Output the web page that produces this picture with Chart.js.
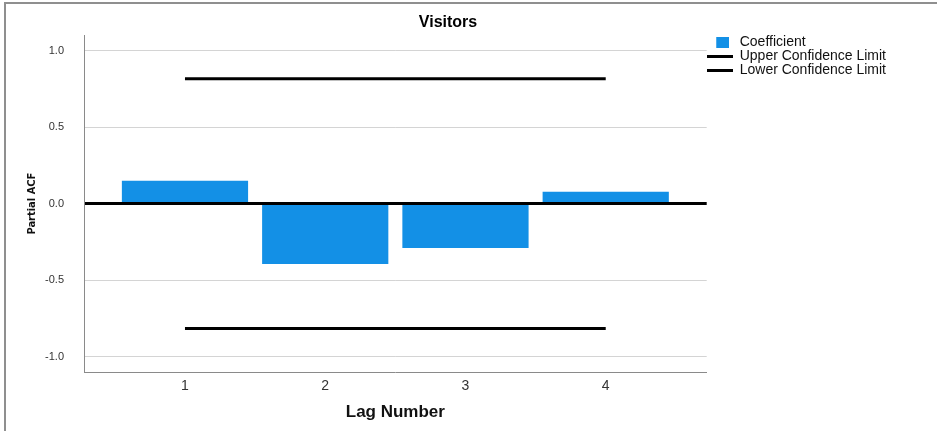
<!DOCTYPE html>
<html>
<head>
<meta charset="utf-8">
<script src="https://cdn.jsdelivr.net/npm/chart.js@4/dist/chart.umd.min.js"></script>
<style>
  html, body { margin: 0; padding: 0; background: #fff; }
  #marco { position: absolute; left: 4px; top: 2px; width: 933px; height: 429px;
           border-left: 2px solid #8f8f8f; border-top: 2px solid #8f8f8f; box-sizing: border-box; }
  #contenedor { position: absolute; left: 0; top: 0; width: 896px; height: 431px; }
</style>
</head>
<body>
<div id="marco"></div>
<div id="contenedor"><canvas id="myChart"></canvas></div>
<script>
// datos
let lags = [1, 2, 3, 4];
let coeficientes = [0.15, -0.395, -0.29, 0.077];
let limiteSuperior = [0.816, 0.816, 0.816, 0.816];
let limiteInferior = [-0.816, -0.816, -0.816, -0.816];
let ticksY = [-1, -0.5, 0, 0.5, 1];

let azul = "#1390e6";

// iconos de la leyenda (cuadro corrido un poco a la derecha, como en el original)
let iconoCuadro = document.createElement("canvas");
iconoCuadro.width = 19; iconoCuadro.height = 11;
let c1 = iconoCuadro.getContext("2d");
c1.fillStyle = azul; c1.fillRect(6, 0, 13, 11);

let iconoLinea = document.createElement("canvas");
iconoLinea.width = 26; iconoLinea.height = 3;
let c2 = iconoLinea.getContext("2d");
c2.fillStyle = "#000"; c2.fillRect(0, 0, 26, 3);

const data = {
  datasets: [
    {
      type: "bar",
      label: "Coefficient",
      data: lags.map((l, i) => ({ x: l, y: coeficientes[i] })),
      backgroundColor: azul,
      borderWidth: 0,
      categoryPercentage: 0.9,
      barPercentage: 1.0,
      order: 2
    },
    {
      type: "line",
      label: "Upper Confidence Limit",
      data: lags.map((l, i) => ({ x: l, y: limiteSuperior[i] })),
      borderColor: "#000",
      backgroundColor: "#000",
      borderWidth: 3,
      pointRadius: 0,
      order: 1
    },
    {
      type: "line",
      label: "Lower Confidence Limit",
      data: lags.map((l, i) => ({ x: l, y: limiteInferior[i] })),
      borderColor: "#000",
      backgroundColor: "#000",
      borderWidth: 3,
      pointRadius: 0,
      order: 1
    }
  ]
};

const config = {
  data: data,
  options: {
    responsive: true,
    maintainAspectRatio: false,
    animation: false,
    layout: { padding: 0 },
    plugins: {
      tooltip: { enabled: false },
      title: {
        display: true,
        text: "Visitors",
        color: "#000",
        font: { family: "Liberation Sans", size: 16, weight: "bold" },
        padding: { top: 13, bottom: 3 }
      },
      legend: {
        position: "right",
        align: "start",
        title: {
          display: true,
          text: " ",
          font: { size: 10 },
          padding: { top: 23, bottom: 0 }
        },
        labels: {
          color: "#111",
          font: { family: "Liberation Sans", size: 14 },
          usePointStyle: true,
          pointStyleWidth: 26,
          padding: 0,
          generateLabels: (chart) => {
            return chart.data.datasets.map((ds, i) => ({
              text: ds.label,
              pointStyle: i == 0 ? iconoCuadro : iconoLinea,
              fillStyle: ds.backgroundColor,
              strokeStyle: ds.backgroundColor,
              lineWidth: 0,
              hidden: false,
              datasetIndex: i,
              fontColor: "#111"
            }));
          }
        }
      }
    },
    scales: {
      x: {
        type: "linear",
        offset: false,
        min: 0.28,
        max: 4.72,
        afterBuildTicks: (scale) => { scale.ticks = lags.map(v => ({ value: v })); },
        afterFit: (scale) => { scale.height = 59; },
        grid: { display: false, drawTicks: false },
        border: { display: true, color: "#8a8a8a", width: 1 },
        ticks: {
          color: "#333",
          font: { family: "Liberation Sans", size: 14 },
          padding: 6
        },
        title: {
          display: true,
          text: "Lag Number",
          color: "#111",
          font: { family: "Liberation Sans", size: 17, weight: "bold" },
          padding: { top: 0, bottom: 8 }
        }
      },
      y: {
        min: -1.1,
        max: 1.1,
        afterBuildTicks: (scale) => { scale.ticks = ticksY.map(v => ({ value: v })); },
        afterFit: (scale) => { scale.width = 84; },
        grid: {
          z: 1,
          drawTicks: false,
          color: (ctx) => (ctx.tick && ctx.tick.value === 0 ? "#000" : "#d4d4d4"),
          lineWidth: (ctx) => (ctx.tick && ctx.tick.value === 0 ? 3 : 1)
        },
        border: { display: true, color: "#8a8a8a", width: 1, z: 1 },
        ticks: {
          color: "#333",
          font: { family: "Liberation Sans", size: 11 },
          padding: 20,
          callback: (v) => Number(v).toFixed(1)
        },
        title: {
          display: true,
          text: "Partial ACF",
          color: "#111",
          font: { family: "'DejaVu Sans Condensed', 'Liberation Sans'", size: 11, weight: "bold" },
          padding: { top: 26, bottom: 0 }
        }
      }
    }
  }
};

const myChart = new Chart(document.getElementById("myChart"), config);
</script>
</body>
</html>
